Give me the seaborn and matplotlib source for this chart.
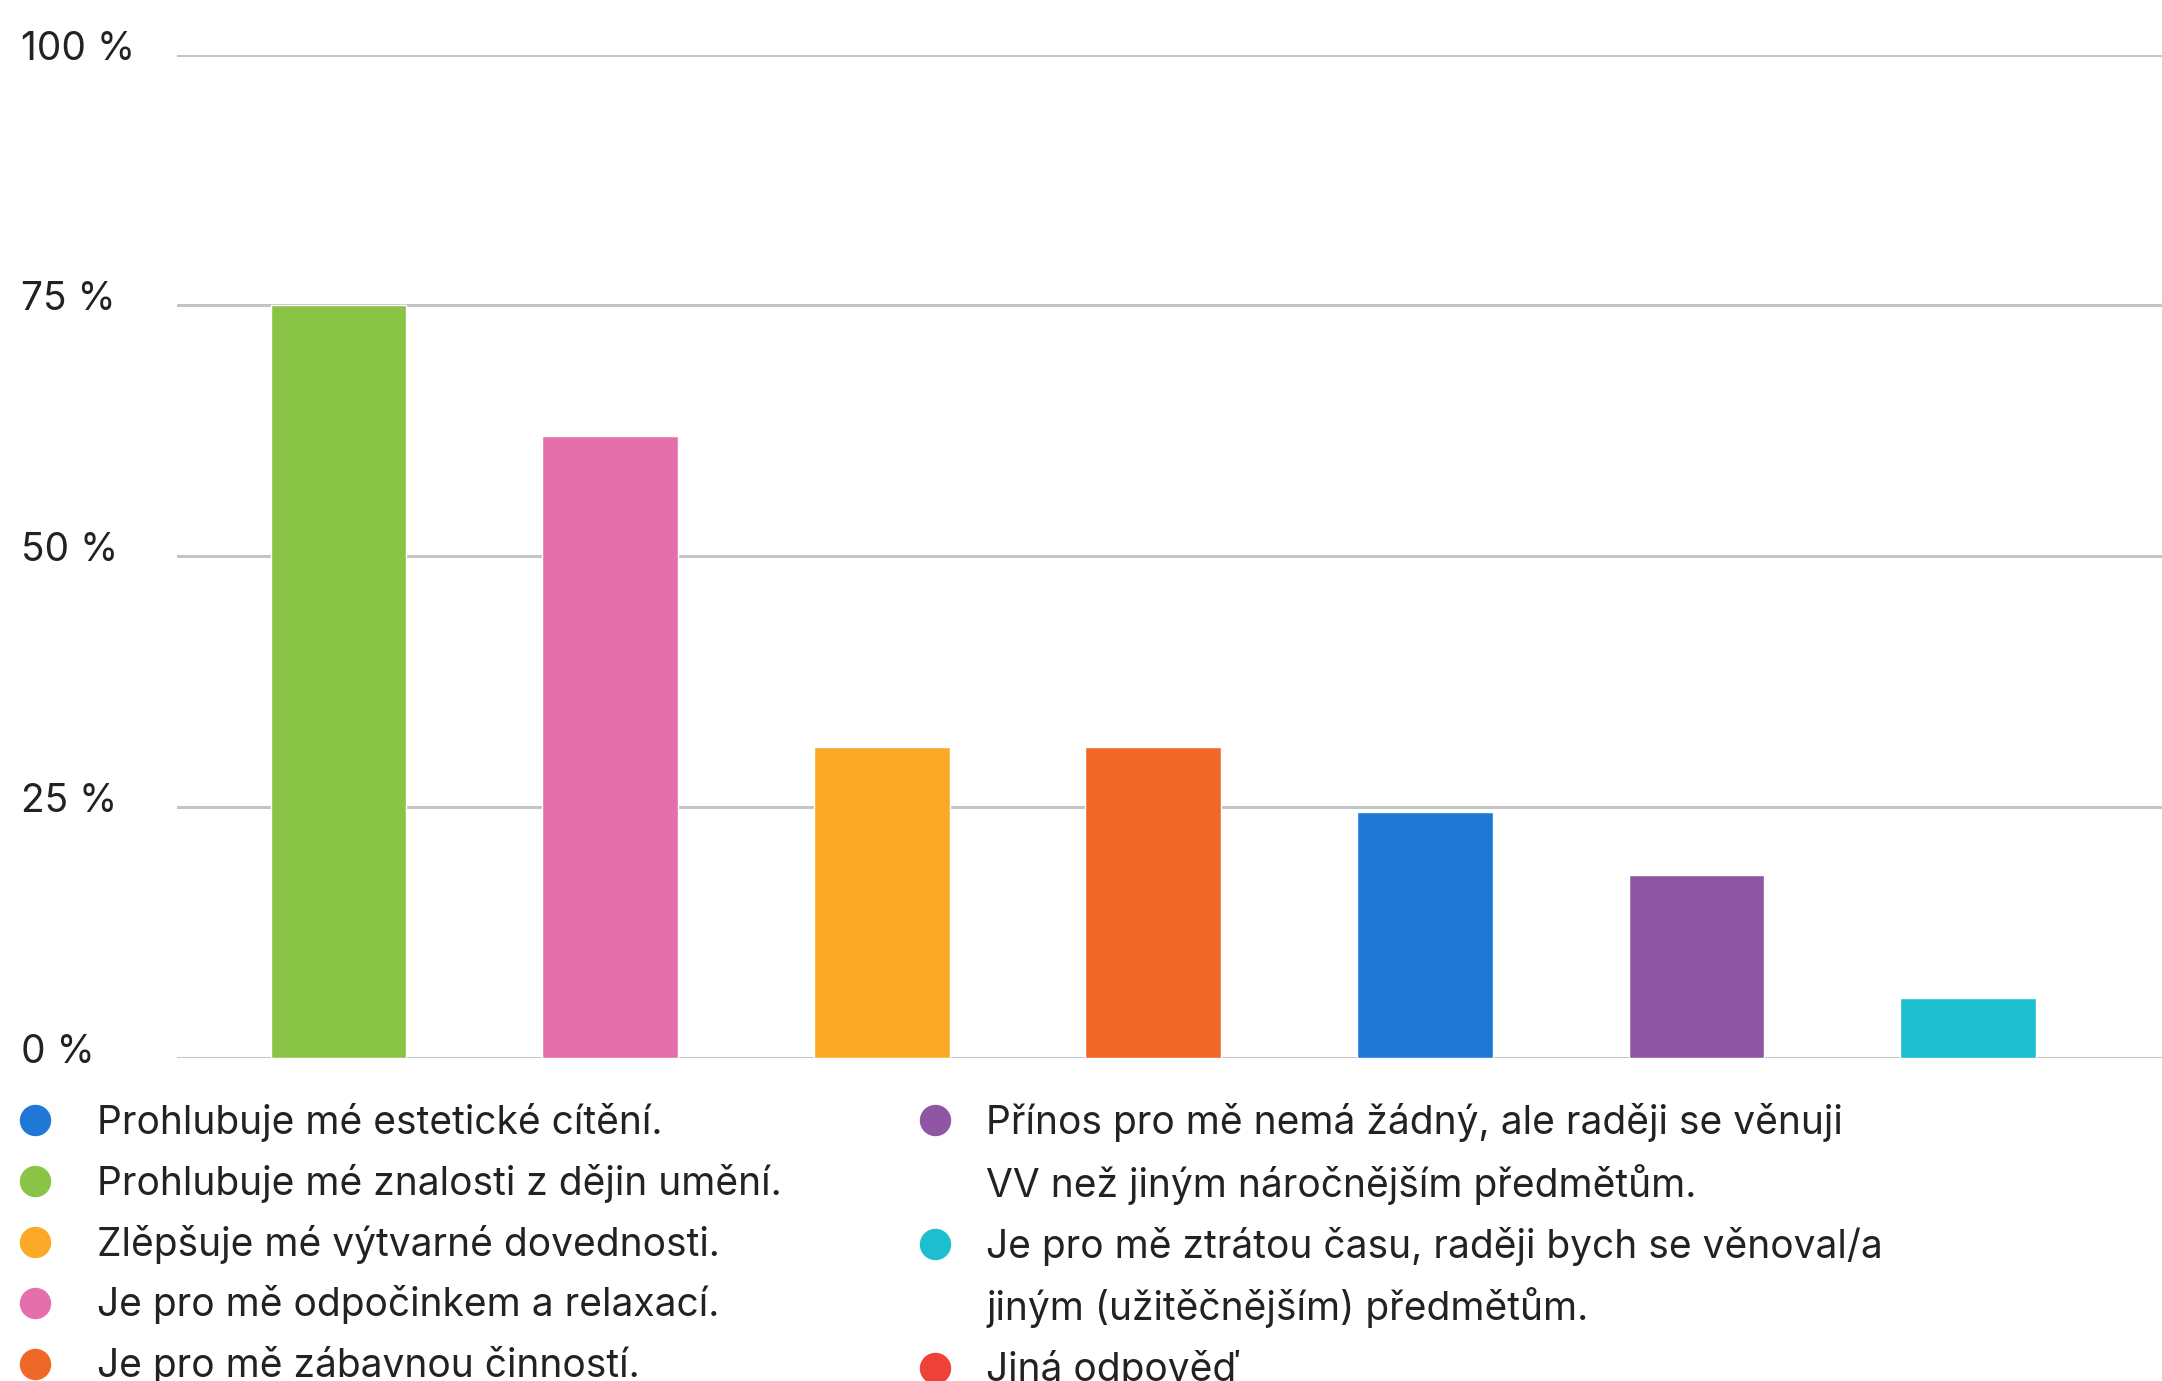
import matplotlib
matplotlib.use('Agg')
import matplotlib.pyplot as plt
from matplotlib.lines import Line2D
from matplotlib.transforms import ScaledTranslation
import seaborn as sns

# bar data (sorted as in the chart)
categories = [
    'Prohlubuje mé znalosti z dějin umění.',
    'Je pro mě odpočinkem a relaxací.',
    'Zlěpšuje mé výtvarné dovednosti.',
    'Je pro mě zábavnou činností.',
    'Prohlubuje mé estetické cítění.',
    'Přínos pro mě nemá žádný, ale raději se věnuji VV než jiným náročnějším předmětům.',
    'Je pro mě ztrátou času, raději bych se věnoval/a jiným (užitěčnějším) předmětům.',
    'Jiná odpověď',
]
values = [75, 62, 31, 31, 24.5, 18.2, 6, 0]
colors = ['#89C446', '#E56FAA', '#FBA926', '#F06827', '#1F78D6', '#8F57A3', '#1DBECE', '#EE4137']

ytick_values = [0, 25, 50, 75, 100]
ytick_labels = ['0 %', '25 %', '50 %', '75 %', '100 %']

# legend, two columns (continuation lines have no marker)
legend_left = [
    ('Prohlubuje mé estetické cítění.', '#1F78D6'),
    ('Prohlubuje mé znalosti z dějin umění.', '#89C446'),
    ('Zlěpšuje mé výtvarné dovednosti.', '#FBA926'),
    ('Je pro mě odpočinkem a relaxací.', '#E56FAA'),
    ('Je pro mě zábavnou činností.', '#F06827'),
]
legend_right = [
    ('Přínos pro mě nemá žádný, ale raději se věnuji', '#8F57A3'),
    ('VV než jiným náročnějším předmětům.', None),
    ('Je pro mě ztrátou času, raději bych se věnoval/a', '#1DBECE'),
    ('jiným (užitěčnějším) předmětům.', None),
    ('Jiná odpověď', '#EE4137'),
]

FS = 28  # font size in pt
fs_px = FS * 100 / 72

sns.set_style('white')
plt.rcParams['font.family'] = ['Inter', 'DejaVu Sans']

fig = plt.figure(figsize=(21.62, 13.81), dpi=100)
ax = fig.add_axes([177 / 2162, 0.2339, 1 - 177 / 2162, 0.7266])

sns.barplot(x=categories, y=values, hue=categories, palette=colors,
            width=0.5, legend=False, saturation=1, ax=ax)

ax.set_xlim(-0.595, 6.714)
ax.set_ylim(0, 100)
ax.set_yticks(ytick_values, labels=ytick_labels)
ax.set_xticks([])
ax.set_xlabel('')
ax.set_ylabel('')
ax.tick_params(axis='y', length=0, pad=112, labelsize=FS, labelcolor='#222222')
shift = ScaledTranslation(0, -5 / 100, fig.dpi_scale_trans)
for lab in ax.get_yticklabels():
    lab.set_horizontalalignment('left')
    lab.set_verticalalignment('baseline')
    lab.set_transform(lab.get_transform() + shift)

ax.set_axisbelow(True)
ax.grid(axis='y', color='#c4c4c4', linewidth=2.2)
ax.grid(axis='x', visible=False)
sns.despine(ax=ax, left=True, bottom=True)


def make_legend(items, marker_x, text_x, top_px):
    handles = []
    labels = []
    for text, col in items:
        if col is None:
            h = Line2D([], [], linestyle='none', marker='None')
        else:
            h = Line2D([], [], linestyle='none', marker='o', markersize=21.6,
                       markerfacecolor=col, markeredgecolor=col)
        handles.append(h)
        labels.append(text)
    left = marker_x - fs_px / 2
    pad = (text_x - left - fs_px) / fs_px
    leg = fig.legend(handles, labels, loc='upper left',
                     bbox_to_anchor=(left / 2162, 1 - top_px / 1381),
                     frameon=False, fontsize=FS, handlelength=1.0,
                     handletextpad=pad, labelspacing=0.56, borderpad=0,
                     borderaxespad=0)
    for t in leg.get_texts():
        t.set_color('#222222')
    return leg


make_legend(legend_left, 34.5, 97, 1103)
make_legend(legend_right, 934.7, 986, 1103)

fig.savefig('out.png', dpi=100)
